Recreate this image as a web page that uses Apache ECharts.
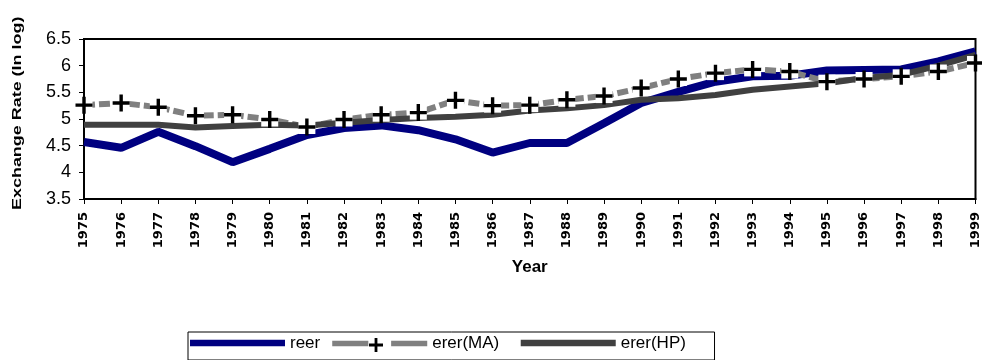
<!DOCTYPE html>
<html><head><meta charset="utf-8">
<script src="https://cdn.jsdelivr.net/npm/echarts@6/dist/echarts.min.js"></script>
<style>html,body{margin:0;padding:0;background:#fff}#c{width:982px;height:360px}</style>
</head><body><div id="c"></div>
<script>
const years = ['1975','1976','1977','1978','1979','1980','1981','1982','1983','1984','1985','1986','1987','1988','1989','1990','1991','1992','1993','1994','1995','1996','1997','1998','1999'];
const reer = [4.57,4.46,4.76,4.49,4.19,4.44,4.70,4.83,4.88,4.79,4.62,4.37,4.55,4.55,4.92,5.30,5.51,5.70,5.80,5.81,5.91,5.92,5.93,6.08,6.27];
const ererMA = [5.26,5.30,5.22,5.06,5.08,4.99,4.85,4.99,5.08,5.12,5.35,5.25,5.26,5.36,5.43,5.58,5.75,5.86,5.93,5.89,5.70,5.75,5.80,5.89,6.05];
const ererHP = [4.89,4.89,4.89,4.84,4.87,4.89,4.88,4.93,4.98,5.02,5.04,5.08,5.16,5.20,5.26,5.36,5.39,5.45,5.55,5.61,5.67,5.77,5.83,6.00,6.20];
const yTicks = {min:3.5, max:6.5, interval:0.5};

const font = 'Liberation Sans, Arial, sans-serif';
const chart = echarts.init(document.getElementById('c'));
const plusPath = 'path://M4,0h2v4h4v2h-4v4h-2v-4h-4v-2h4z';
const barIcon = 'path://M0,0h100v0.01h-100z M0,3h100v7h-100z M0,13.99h100v0.01h-100z';
const legendPad = {'reer':0,'erer(MA)':2,'erer(HP)':5};
chart.setOption({
  animation:false,
  grid:{left:84,right:4,top:39,bottom:161,show:true,borderColor:'#000',borderWidth:2},
  xAxis:{type:'category',data:years,boundaryGap:false,
    axisLine:{lineStyle:{color:'#000',width:2}},
    axisTick:{show:true,alignWithLabel:true,length:5,lineStyle:{color:'#000',width:1}},
    axisLabel:{rotate:90,interval:0,color:'#000',fontFamily:'DejaVu Sans',fontWeight:'bold',fontSize:13,margin:13},
    name:'Year',nameLocation:'middle',nameGap:60,
    nameTextStyle:{color:'#000',fontFamily:font,fontSize:17,fontWeight:'bold'}},
  yAxis:{type:'value',min:yTicks.min,max:yTicks.max,interval:yTicks.interval,
    splitLine:{show:false},
    axisLine:{show:true,lineStyle:{color:'#000',width:2}},
    axisTick:{show:true,length:5,lineStyle:{color:'#000'}},
    axisLabel:{color:'#000',fontFamily:font,fontSize:18,margin:13}},
  graphic:[{type:'text',x:11,y:210,rotation:Math.PI/2,scaleX:1.38,scaleY:1.0,
    style:{text:'Exchange Rate (In log)',font:'bold 13px '+font,fill:'#000'}}],
  legend:[{left:188,top:332,padding:[3,5,8,2],itemGap:12,itemWidth:95,itemHeight:14,
    borderColor:'#000',borderWidth:1,backgroundColor:'#fff',selectedMode:false,
    formatter:function(n){return n+'\u00a0'.repeat(legendPad[n]);},
    textStyle:{color:'#000',fontFamily:font,fontSize:17},
    data:[
      {name:'reer',icon:barIcon},
      {name:'erer(MA)',icon:'path://M0,0h100v0.01h-100z M0,4h38v6h-38z M62,4h38v6h-38z M0,13.99h100v0.01h-100z'},
      {name:'erer(HP)',icon:barIcon}
    ]},
    {left:369,top:338,padding:0,itemWidth:14,itemHeight:14,selectedMode:false,
     formatter:function(){return '';},
     data:[{name:'maPlus',icon:plusPath}]}],
  series:[
    {name:'reer',type:'line',data:reer,symbol:'none',z:2,
      lineStyle:{color:'#000080',width:8},itemStyle:{color:'#000080'}},
    {name:'erer(MA)',type:'line',data:ererMA,symbol:'none',z:2,
      lineStyle:{color:'#808080',width:6,type:[11,4]},itemStyle:{color:'#808080'}},
    {name:'erer(HP)',type:'line',data:ererHP,symbol:'none',z:2,
      lineStyle:{color:'#404040',width:6},itemStyle:{color:'#404040'}},
    {name:'maBox',type:'scatter',data:ererMA,symbol:'rect',symbolSize:[17,14],z:3,silent:true,
      itemStyle:{color:'#fff',opacity:1}},
    {name:'maPlus',type:'scatter',data:ererMA,symbol:plusPath,symbolSize:17,z:4,silent:true,
      itemStyle:{color:'#000',opacity:1}}
  ]
});
</script></body></html>
